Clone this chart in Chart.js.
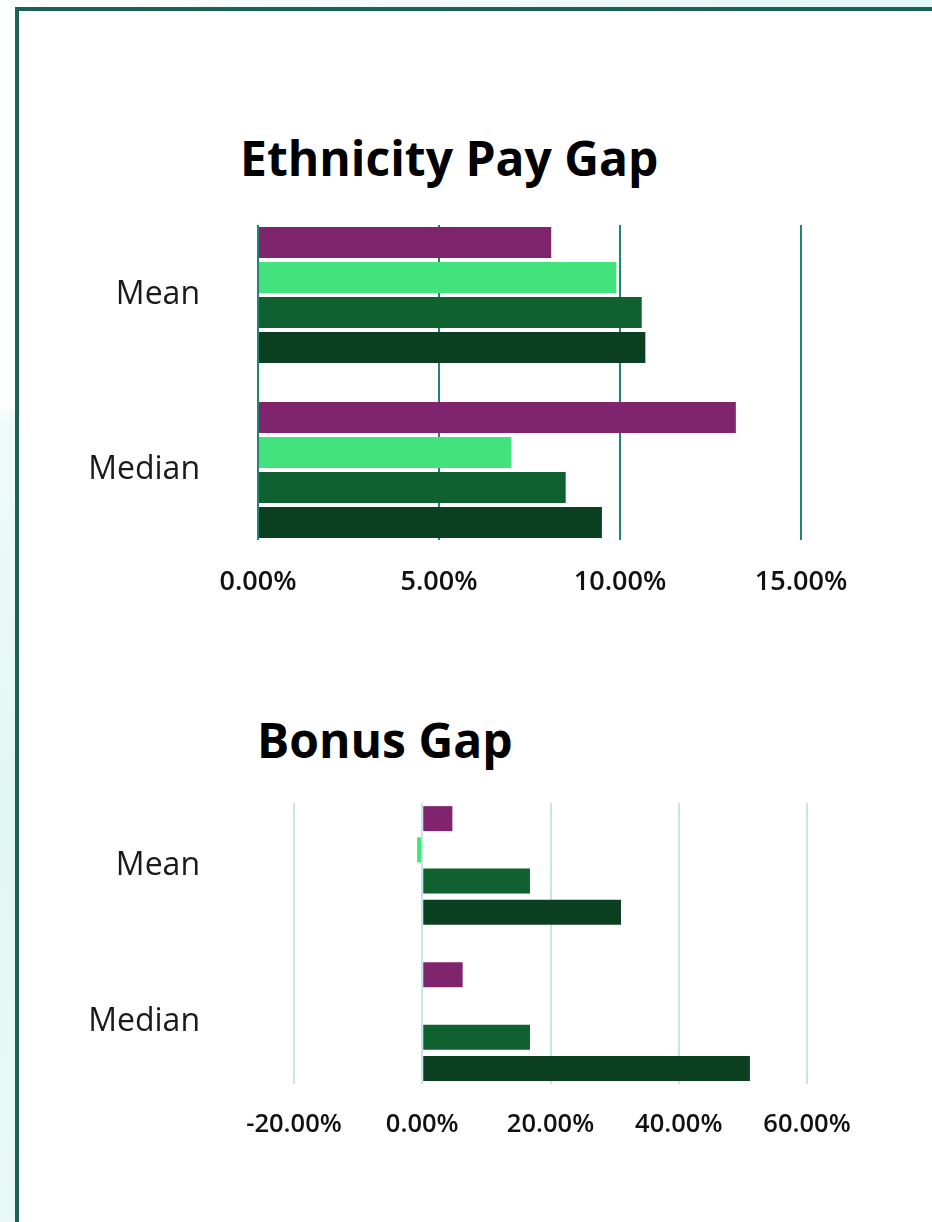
<!DOCTYPE html>
<html>
<head>
<meta charset="utf-8">
<script src="https://cdn.jsdelivr.net/npm/chart.js@4.4.1/dist/chart.umd.min.js"></script>
<style>
  html, body { margin: 0; padding: 0; }
  body {
    width: 932px; height: 1222px; overflow: hidden; position: relative;
    font-family: "Open Sans", sans-serif;
    background: linear-gradient(180deg, #fcfefe 0px, #fcfefe 406px, #f0fbf9 420px, #e1f7f4 800px, #e8f9f6 1222px);
  }
  .topstrip {
    position: absolute; left: 0; top: 0; width: 932px; height: 8px;
    background: linear-gradient(90deg, #fdfefe 0%, #f3fbfa 40%, #e2f6f3 100%);
  }
  .panel {
    position: absolute; left: 15px; top: 7px; width: 1000px; height: 1300px;
    border: 4px solid #1b6257; background: #fff;
  }
  .title {
    position: absolute; margin: 0; font-weight: 700; font-size: 48px;
    line-height: 1; color: #000; white-space: nowrap;
  }
  .wrap { position: absolute; left: 0; width: 932px; }
</style>
</head>
<body>
<div class="topstrip"></div>
<div class="panel"></div>

<h1 class="title" style="left:240px; top:134px;">Ethnicity Pay Gap</h1>
<div class="wrap" style="top:200px; height:420px;"><canvas id="payChart"></canvas></div>

<h1 class="title" style="left:257px; top:716px;">Bonus Gap</h1>
<div class="wrap" style="top:780px; height:400px;"><canvas id="bonusChart"></canvas></div>

<script>
// Categories and series (percent values)
const categories = ['Mean', 'Median'];
const seriesNames = ['Series 1', 'Series 2', 'Series 3', 'Series 4'];
const seriesColors = ['#80246e', '#42e37d', '#0f6130', '#0a4020'];

// Ethnicity pay gap
const payPurple = [8.1, 13.2];
const payLight = [9.9, 7.0];
const payMid = [10.6, 8.5];
const payDark = [10.7, 9.5];
const payTicks = [0, 5, 10, 15];

// Bonus gap (no light green bar for the median)
const bonusPurple = [4.7, 6.3];
const bonusLight = [-0.8, null];
const bonusMid = [16.8, 16.8];
const bonusDark = [31.0, 51.1];
const bonusTicks = [-20, 0, 20, 40, 60];

const labelFont = { family: 'Open Sans', size: 32 };

function makeDatasets(values, barPct) {
    return values.map((data, i) => ({
        label: seriesNames[i],
        data: data,
        backgroundColor: seriesColors[i],
        borderWidth: 0,
        categoryPercentage: 0.8,
        barPercentage: barPct
    }));
}

// spread the two groups a little further apart than the default bands
function spreadCategories(scale) {
    scale._startValue = -0.4;
    scale._valueRange = 1.8;
}

function buildChart(id, values, ticks, opts) {
    const ctx = document.getElementById(id);
    return new Chart(ctx, {
        type: 'bar',
        data: {
            labels: categories,
            datasets: makeDatasets(values, opts.barPct)
        },
        options: {
            indexAxis: 'y',
            responsive: true,
            maintainAspectRatio: false,
            animation: false,
            layout: { padding: { top: opts.top, right: opts.right, left: 0, bottom: 0 } },
            scales: {
                x: {
                    min: ticks[0],
                    max: ticks[ticks.length - 1],
                    afterBuildTicks: (scale) => {
                        scale.ticks = ticks.map(v => ({ value: v }));
                    },
                    afterFit: (scale) => {
                        scale.height = opts.xHeight;
                        scale.paddingLeft = 0;
                        scale.paddingRight = 0;
                    },
                    grid: {
                        color: opts.gridColor,
                        lineWidth: 2,
                        drawTicks: false
                    },
                    border: { display: false },
                    ticks: {
                        color: '#111',
                        font: { family: 'Open Sans', size: opts.tickSize, weight: '600' },
                        padding: opts.xPad,
                        maxRotation: 0,
                        callback: (v) => Number(v).toFixed(2) + '%'
                    }
                },
                y: {
                    afterBuildTicks: spreadCategories,
                    afterFit: (scale) => {
                        scale.width = opts.left;
                        scale.paddingTop = 0;
                        scale.paddingBottom = 0;
                    },
                    grid: { display: false, drawTicks: false },
                    border: { display: false },
                    ticks: {
                        color: '#1a1a1a',
                        font: labelFont,
                        padding: opts.left - 200
                    }
                }
            },
            plugins: {
                legend: { display: false },
                tooltip: { enabled: false }
            }
        }
    });
}

buildChart('payChart', [payPurple, payLight, payMid, payDark], payTicks, {
    top: 25, right: 131, left: 258, xHeight: 80, xPad: 26, tickSize: 27,
    gridColor: '#1f8577', barPct: 0.886
});

buildChart('bonusChart', [bonusPurple, bonusLight, bonusMid, bonusDark], bonusTicks, {
    top: 23, right: 125, left: 294, xHeight: 96, xPad: 25, tickSize: 25.5,
    gridColor: '#c6e6e6', barPct: 0.8
});
</script>
</body>
</html>
